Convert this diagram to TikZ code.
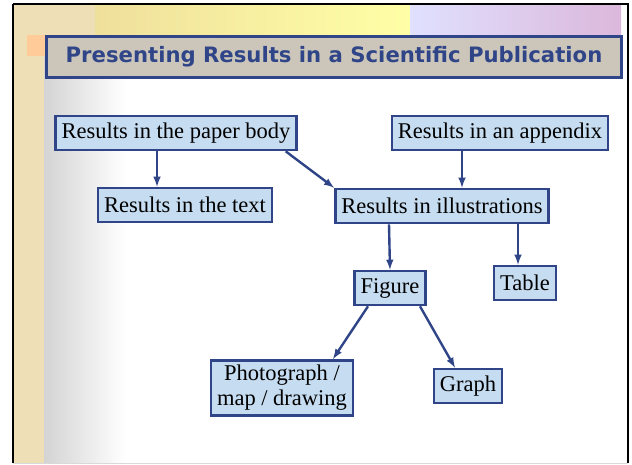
\documentclass[tikz,border=0pt]{standalone}
\usepackage{fontspec}
\setmainfont{Liberation Serif}
\newfontfamily\headfont{DejaVu Sans}
\usepackage{xcolor}
\usetikzlibrary{arrows}

\definecolor{boxblue}{HTML}{C6DCF0}
\definecolor{navy}{HTML}{2F4588}
\definecolor{titlegray}{HTML}{CCC6BA}
\definecolor{parch}{HTML}{EEDFB6}

\begin{document}
\begin{tikzpicture}[
    x=1pt, y=-1pt,
    box/.style={rectangle, draw=navy, line width=2.6pt, fill=boxblue, text=black, inner xsep=6pt, inner ysep=0pt, minimum height=34pt, align=center, font=\fontsize{22.5}{25}\selectfont},
    arrow/.style={-latex, line width=2.4pt, draw=navy}
]

% slide background
\useasboundingbox (0,0) rectangle (632,465);
\fill[white] (0,0) rectangle (632,465);
\fill[parch] (13,4) rectangle (44,463);
\fill[parch] (13,4) rectangle (95,36);
\shade[left color=black!17, right color=white] (44,36) rectangle (125,463);
\shade[left color=yellow!45!brown!45, right color=yellow!35!white] (95,5) rectangle (410,45);
\shade[left color=blue!12, right color=violet!28] (410,5) rectangle (621,52);
\fill[orange!40] (27,35) rectangle (48,56);
\draw[line width=2.4pt] (13,4) -- (628,4) -- (628,463);
\draw[line width=2.4pt] (13,4) -- (13,463);
\draw[black!15, line width=1pt] (13,463) -- (628,463);

% title
\node[rectangle, draw=navy, line width=2.6pt, fill=titlegray, text=navy, minimum width=575pt, minimum height=41pt, font=\headfont\bfseries\fontsize{21.2}{24}\selectfont] (title) at (334,57) {Presenting Results in a Scientific Publication};

% boxes
\node[box] (body) at (176,133) {Results in the paper body};
\node[box] (appendix) at (500,133) {Results in an appendix};
\node[box] (text) at (185,205) {Results in the text};
\node[box] (illus) at (442,206) {Results in illustrations};
\node[box] (figure) at (390,288) {Figure};
\node[box] (table) at (525,283) {Table};
\node[box, inner ysep=5pt] (photo) at (282,388) {Photograph /\\map / drawing};
\node[box] (graph) at (468,386) {Graph};

% connectors
\draw[arrow] ([xshift=-19pt]body.south) -- ([xshift=-28pt]text.north);
\draw[arrow] ([xshift=-12pt]body.south east) -- (illus.north west);
\draw[arrow] ([xshift=-38pt]appendix.south) -- ([xshift=20pt]illus.north);
\draw[arrow] ([xshift=-53pt]illus.south) -- (figure.north);
\draw[arrow] ([xshift=76pt]illus.south) -- ([xshift=-7pt]table.north);
\draw[arrow] ([xshift=-22pt]figure.south) -- ([xshift=51pt]photo.north);
\draw[arrow] ([xshift=30pt]figure.south) -- ([xshift=-13pt]graph.north);

\end{tikzpicture}
\end{document}
